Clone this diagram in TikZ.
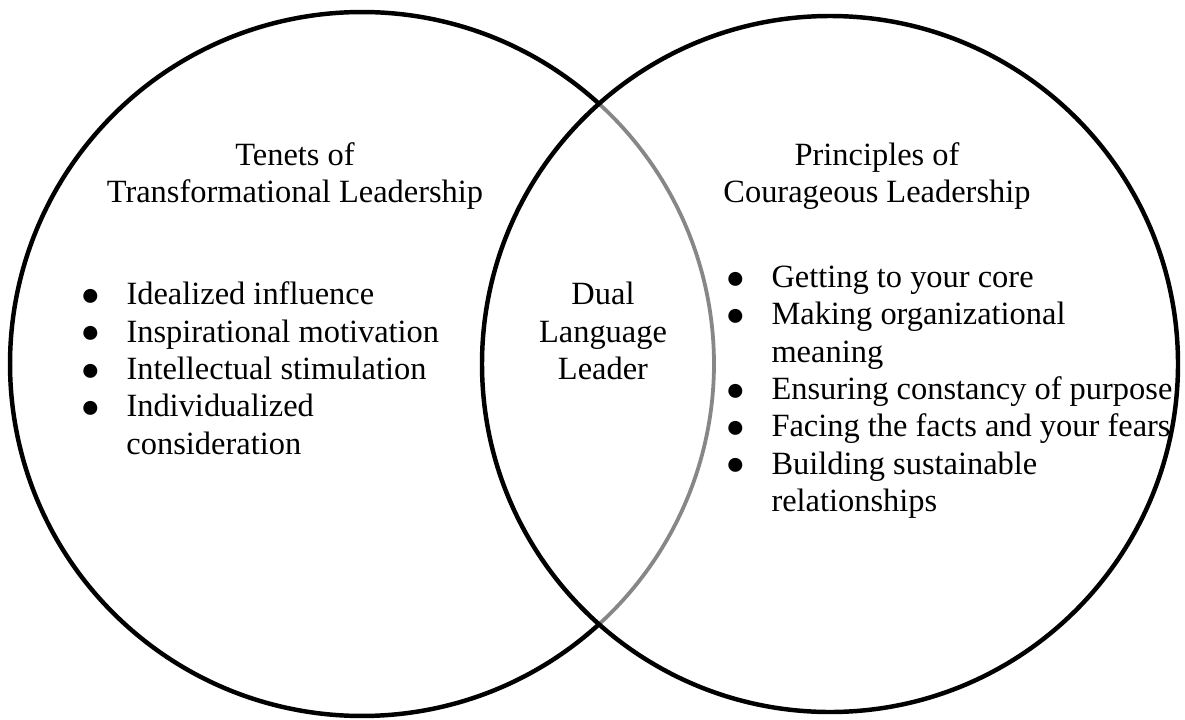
\documentclass[tikz,border=0pt]{standalone}
\usepackage{fontspec}
\setmainfont{Liberation Serif}
\usetikzlibrary{positioning}

\newcommand{\dotmark}{\raisebox{-0.3pt}{●}}

\begin{document}
\begin{tikzpicture}[
    x=0.013cm, y=0.013cm,
    ring/.style={line width=1.65pt, draw=black},
    overlap/.style={line width=1.4pt, draw=black!47},
    heading/.style={align=center, inner sep=0pt, font=\fontsize{12}{13.8}\selectfont},
    points/.style={anchor=west, align=left, inner sep=0pt, font=\fontsize{12}{13.8}\selectfont}
]
\useasboundingbox (0,0) rectangle (1185,719);

% the two sets; the part of the left one inside the right one is grey
\coordinate (cL) at (362,355);
\coordinate (cR) at (830,355);
\draw[ring] ([shift={(47.7:352)}]cL) arc (47.7:312.3:352);
\draw[overlap] ([shift={(-47.7:352)}]cL) arc (-47.7:47.7:352);
\draw[ring] (cR) circle (348);

% set titles
\node[heading] (tenets) at (295,543) {Tenets of\\Transformational Leadership};
\node[heading] (principles) at (877,543) {Principles of\\Courageous Leadership};

% the overlap
\node[heading] (leader) at (603,388) {Dual\\Language\\Leader};

% bullet lists
\node[points] (tlist) at (80,347) {%
  \begin{tabular}{@{}p{17pt}@{}l@{}}
  \dotmark & Idealized influence\\
  \dotmark & Inspirational motivation\\
  \dotmark & Intellectual stimulation\\
  \dotmark & Individualized\\
           & consideration
  \end{tabular}};
\node[points] (clist) at (725,327) {%
  \begin{tabular}{@{}p{17pt}@{}l@{}}
  \dotmark & Getting to your core\\
  \dotmark & Making organizational\\
           & meaning\\
  \dotmark & Ensuring constancy of purpose\\
  \dotmark & Facing the facts and your fears\\
  \dotmark & Building sustainable\\
           & relationships
  \end{tabular}};

\end{tikzpicture}
\end{document}
